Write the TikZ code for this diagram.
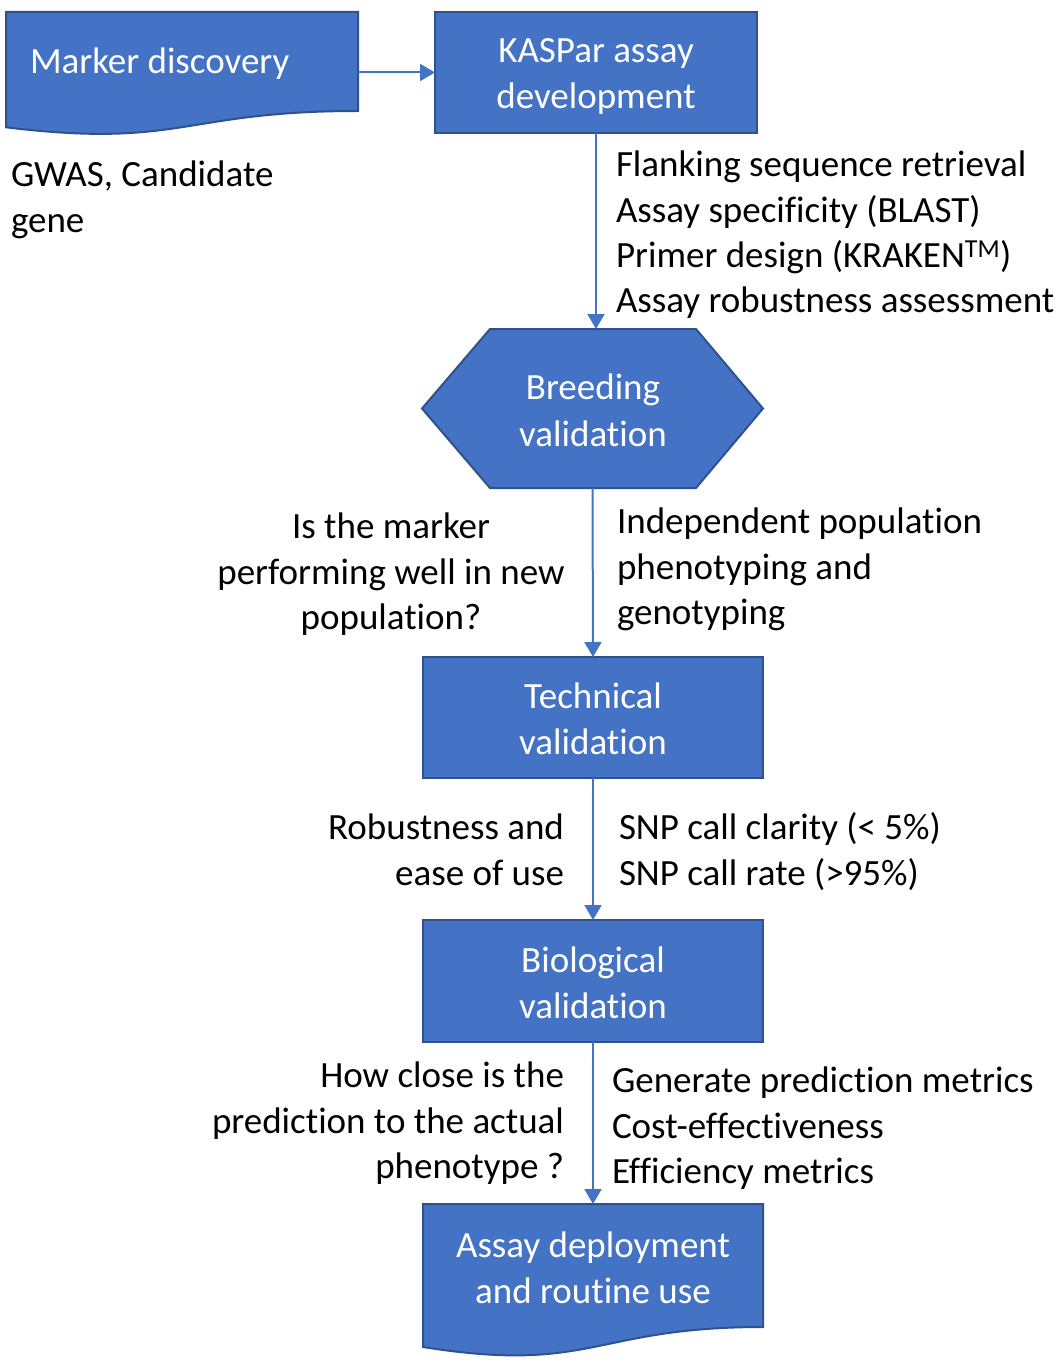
\documentclass[tikz,border=0pt]{standalone}
\usepackage{fontspec}
\setmainfont{Carlito}[Ligatures=CommonOff]
\usetikzlibrary{arrows.meta}
\definecolor{boxblue}{HTML}{4472C4}
\definecolor{boxedge}{HTML}{2F528F}
\begin{document}
\begin{tikzpicture}[x=1pt,y=-1pt,
  every node/.style={inner sep=0pt, outer sep=0pt, font=\fontsize{37}{46}\selectfont},
  shapefill/.style={fill=boxblue, draw=boxedge, line width=2pt, line join=miter},
  flowbox/.style={shapefill, rectangle},
  ghost/.style={rectangle},
  intext/.style={text=white, anchor=base},
  lbl/.style={text=black, anchor=base west},
  lblr/.style={text=black, anchor=base east},
  lblc/.style={text=black, anchor=base},
  arr/.style={draw=boxblue, line width=2pt, -{Triangle[length=15pt,width=17pt]}}]
\useasboundingbox (0,0) rectangle (1063,1362);

% Marker discovery (document shape)
\path[shapefill] (6,12) -- (358,12) -- (358,111)
  .. controls (182,111) and (182,148.7) .. (6,127.3) -- cycle;
\node[ghost, minimum width=352pt, minimum height=99pt] (md) at (182,61.5) {};
\node[intext, anchor=base west] (mdT) at (30,74) {Marker discovery};

% KASPar assay development
\node[flowbox, minimum width=322pt, minimum height=121pt] (kas) at (596,72.5) {};
\node[intext] (kasT1) at (596,63) {KASPar assay};
\node[intext] (kasT2) at (596,109) {development};

% Breeding validation (hexagon)
\path[shapefill] (422,408.5) -- (490,329) -- (696,329) -- (763,408.5) -- (696,488) -- (490,488) -- cycle;
\node[ghost, minimum width=341pt, minimum height=159pt] (hex) at (592.5,408.5) {};
\node[intext] (hexT1) at (593,399) {Breeding};
\node[intext] (hexT2) at (593,446) {validation};

% Technical validation
\node[flowbox, minimum width=340pt, minimum height=121pt] (tech) at (593,717.5) {};
\node[intext] (techT1) at (593,708) {Technical};
\node[intext] (techT2) at (593,754) {validation};

% Biological validation
\node[flowbox, minimum width=340pt, minimum height=122pt] (bio) at (593,981) {};
\node[intext] (bioT1) at (593,972) {Biological};
\node[intext] (bioT2) at (593,1018) {validation};

% Assay deployment (document shape)
\path[shapefill] (423,1204) -- (763,1204) -- (763,1327)
  .. controls (593,1327) and (593,1374) .. (423,1347) -- cycle;
\node[ghost, minimum width=340pt, minimum height=123pt] (dep) at (593,1265.5) {};
\node[intext] (depT1) at (593,1257) {Assay deployment};
\node[intext] (depT2) at (593,1303) {and routine use};

% connectors
\draw[arr] (kas.west -| md.east) -- (kas.west);
\draw[arr] (kas.south) -- (kas.south |- hex.north);
\draw[arr] (hex.south) -- (tech.north);
\draw[arr] (tech.south) -- (bio.north);
\draw[arr] (bio.south) -- (dep.north);

% labels
\node[lbl] (g1) at (11,186) {GWAS, Candidate};
\node[lbl] (g2) at (11,232) {gene};

\node[lbl] (k1) at (616,176) {Flanking sequence retrieval};
\node[lbl] (k2) at (616,222) {Assay specificity (BLAST)};
\node[lbl] (k3) at (616,267) {Primer design (KRAKEN\textsuperscript{TM})};
\node[lbl] (k4) at (616,312) {Assay robustness assessment};

\node[lblc] (b1) at (391,538) {Is the marker};
\node[lblc] (b2) at (391,584) {performing well in new};
\node[lblc] (b3) at (391,629) {population?};
\node[lbl] (b4) at (617,533) {Independent population};
\node[lbl] (b5) at (617,579) {phenotyping and};
\node[lbl] (b6) at (617,624) {genotyping};

\node[lblr] (t1) at (564,839) {Robustness and};
\node[lblr] (t2) at (564,885) {ease of use};
\node[lbl] (t3) at (619,839) {SNP call clarity (< 5\%)};
\node[lbl] (t4) at (619,885) {SNP call rate (>95\%)};

\node[lblr] (c1) at (564,1087) {How close is the};
\node[lblr] (c2) at (564,1133) {prediction to the actual};
\node[lblr] (c3) at (564,1178) {phenotype ?};
\node[lbl] (c4) at (612,1092) {Generate prediction metrics};
\node[lbl] (c5) at (612,1138) {Cost-effectiveness};
\node[lbl] (c6) at (612,1183) {Efficiency metrics};
\end{tikzpicture}
\end{document}
